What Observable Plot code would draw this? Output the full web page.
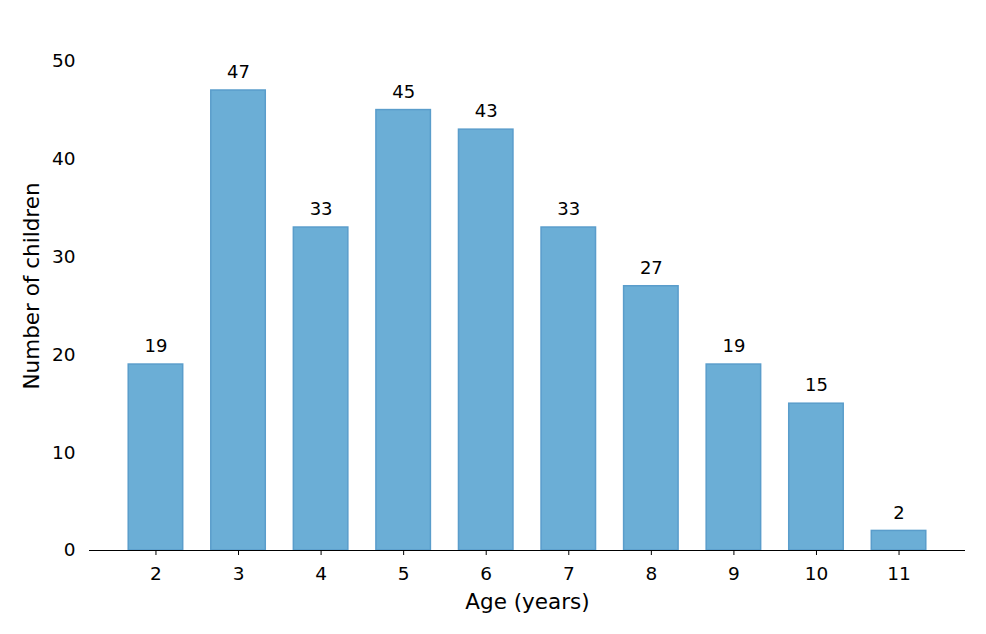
<!DOCTYPE html>
<html>
<head>
<meta charset="utf-8">
<script src="https://cdn.jsdelivr.net/npm/d3@7"></script>
<script src="https://cdn.jsdelivr.net/npm/@observablehq/plot@0.6"></script>
<style>
  html, body { margin: 0; padding: 0; background: #fff; }
  svg { display: block; }
</style>
</head>
<body>
<div id="chart"></div>
<script>
const ages = ["2", "3", "4", "5", "6", "7", "8", "9", "10", "11"];
const counts = [19, 47, 33, 45, 43, 33, 27, 19, 15, 2];
const yTicks = [0, 10, 20, 30, 40, 50];
const yMax = 54.05;

const data = ages.map((a, i) => ({age: a, count: counts[i]}));

const chart = Plot.plot({
  width: 986,
  height: 634,
  marginLeft: 89,
  marginRight: 21,
  marginTop: 21,
  marginBottom: 84,
  style: {fontFamily: "DejaVu Sans", fontSize: "18px", color: "#000", background: "#fff"},
  x: {domain: ages, paddingInner: 0.34, paddingOuter: 0.475, align: 0.5, round: false},
  y: {domain: [0, yMax]},
  marks: [
    Plot.barY(data, {x: "age", y: "count", fill: "#6baed6", stroke: "#5a9dcb", strokeWidth: 1.5}),
    Plot.text(data, {x: "age", y: "count", text: d => String(d.count), dy: -18, fontSize: 18, fill: "#000"}),
    Plot.ruleY([0], {stroke: "#000", strokeWidth: 1.2}),
    Plot.axisY({ticks: yTicks, tickSize: 0, tickPadding: 14, fontSize: 18.5, label: "Number of children", labelAnchor: "center", labelOffset: 66, labelArrow: "none"}),
    Plot.axisX({tickSize: 5, tickPadding: 11, fontSize: 18.5, label: "Age (years)", labelAnchor: "center", labelOffset: 58, labelArrow: "none"})
  ]
});
chart.querySelectorAll("[aria-label='y-axis label'] text, [aria-label='x-axis label'] text").forEach(t => t.style.fontSize = "21.5px");
document.getElementById("chart").appendChild(chart);
</script>
</body>
</html>
